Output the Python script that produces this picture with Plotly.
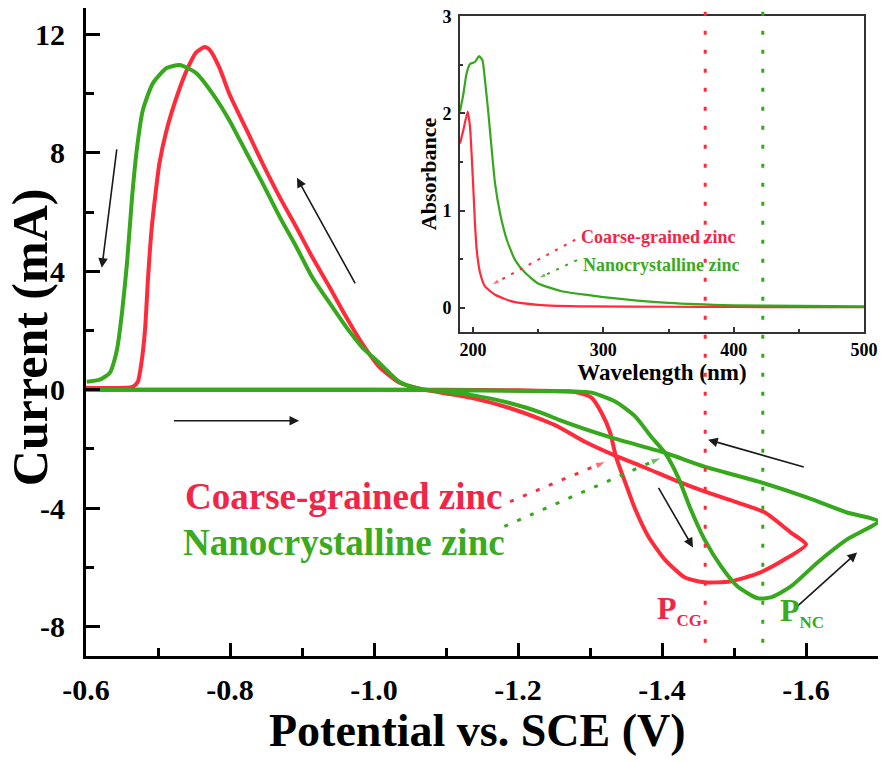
import plotly.graph_objects as go

# cyclic voltammograms: potential (V vs. SCE) and current (mA), one full cycle each
cg_potential = [-0.60, -0.80, -1.00, -1.20, -1.28, -1.302, -1.316, -1.328, -1.336, -1.349, -1.363, -1.381,
                -1.404, -1.432, -1.459, -1.495, -1.533, -1.570, -1.600,
                -1.579, -1.543, -1.501, -1.459, -1.422, -1.376, -1.335, -1.293, -1.256, -1.233, -1.187,
                -1.14, -1.094, -1.06, -1.035, -1.007, -0.983, -0.961, -0.938, -0.914, -0.892, -0.869,
                -0.845, -0.823, -0.799, -0.785, -0.772, -0.765, -0.753, -0.740, -0.726, -0.712, -0.702,
                -0.696, -0.691, -0.686, -0.682, -0.677, -0.672, -0.665, -0.60]
cg_current = [0.0, 0.0, 0.0, -0.02, -0.08, -0.27, -0.78, -1.45, -2.26, -3.14, -4.05, -4.96,
              -5.74, -6.35, -6.51, -6.48, -6.21, -5.74, -5.23,
              -4.83, -4.15, -3.78, -3.44, -3.10, -2.63, -2.23, -1.76, -1.25, -1.01, -0.61,
              -0.30, -0.10, 0.05, 0.24, 0.78, 1.58, 2.47, 3.48, 4.49, 5.50, 6.51,
              7.66, 8.78, 10.0, 10.9, 11.48, 11.58, 11.4, 10.8, 9.9, 8.78, 7.66,
              6.51, 5.4, 3.71, 2.03, 0.91, 0.27, 0.10, 0.07]

nc_potential = [-0.60, -0.80, -1.00, -1.256, -1.302, -1.335, -1.363, -1.385, -1.404, -1.422, -1.44, -1.459,
                -1.482, -1.505, -1.533, -1.551, -1.579, -1.616, -1.657, -1.70,
                -1.657, -1.602, -1.533, -1.459, -1.404, -1.33, -1.256, -1.233, -1.187, -1.14, -1.094,
                -1.06, -1.035, -1.007, -0.983, -0.961, -0.938, -0.914, -0.892, -0.869, -0.845, -0.823,
                -0.799, -0.776, -0.753, -0.730, -0.712, -0.693, -0.679, -0.671, -0.664, -0.657, -0.65,
                -0.643, -0.633, -0.619, -0.601]
nc_current = [0.0, 0.0, 0.0, -0.05, -0.10, -0.40, -0.91, -1.59, -2.13, -2.94, -4.05, -5.06,
              -5.97, -6.65, -7.05, -7.02, -6.65, -5.84, -5.06, -4.45,
              -4.15, -3.65, -3.10, -2.60, -2.13, -1.62, -1.01, -0.78, -0.44, -0.20, -0.07,
              0.05, 0.27, 0.91, 1.45, 2.13, 2.94, 3.81, 4.83, 5.84, 6.99, 8.0,
              9.11, 10.0, 10.7, 10.97, 10.87, 10.36, 9.45, 8.2, 6.51, 4.29, 2.6,
              1.35, 0.57, 0.34, 0.27]

# UV-vis absorbance (inset)
cg_wavelength = [190, 192.6, 195.9, 197.7, 199, 200.3, 201.5, 202.8, 205.4, 209.2, 216.9, 229.8, 250, 288,
                 350, 400, 450, 500]
cg_absorbance = [1.69, 1.83, 2.02, 1.86, 1.56, 1.21, 0.87, 0.60, 0.36, 0.22, 0.134, 0.065, 0.03, 0.013,
                 0.01, 0.008, 0.006, 0.005]
nc_wavelength = [190, 192.6, 195, 197.7, 201.5, 204.6, 207.2, 209.2, 211.8, 214.4, 216.9, 220.8, 225.9,
                 232.3, 240, 250, 268, 288.7, 300, 350, 400, 450, 500]
nc_absorbance = [2.02, 2.2, 2.41, 2.51, 2.53, 2.59, 2.55, 2.34, 2.0, 1.62, 1.28, 0.97, 0.70,
                 0.49, 0.36, 0.25, 0.17, 0.13, 0.11, 0.05, 0.025, 0.018, 0.015]

# cathodic peak potentials
peak_cg = -1.46
peak_nc = -1.54

x_ticks = [-0.6, -0.8, -1.0, -1.2, -1.4, -1.6]
x_tick_labels = ["-0.6", "-0.8", "-1.0", "-1.2", "-1.4", "-1.6"]
x_minor = [-0.7, -0.9, -1.1, -1.3, -1.5, -1.7]
y_ticks = [-8, -4, 0, 4, 8, 12]
y_tick_labels = ["-8", "-4", "0", "4", "8", "12"]
y_minor = [-6, -2, 2, 6, 10]

# scan direction arrows: (tail V, tail I, head V, head I)
scan_arrows = [
    (-0.643, 8.17, -0.622, 4.12),
    (-0.975, 3.54, -0.893, 7.16),
    (-0.720, -1.05, -0.896, -1.05),
    (-1.599, -2.63, -1.464, -1.69),
    (-1.394, -3.27, -1.443, -5.33),
    (-1.583, -7.43, -1.671, -5.50),
]

RED = "#ff2a3a"
GREEN = "#35a81c"
RED_TXT = "#f02648"
GREEN_TXT = "#3aaa1e"
FONT = "Liberation Serif, Times New Roman, serif"

fig = go.Figure()

fig.add_trace(go.Scatter(x=cg_potential, y=cg_current, mode="lines",
                         line=dict(color=RED, width=4, shape="spline", smoothing=0.6),
                         showlegend=False))
fig.add_trace(go.Scatter(x=nc_potential, y=nc_current, mode="lines",
                         line=dict(color=GREEN, width=4, shape="spline", smoothing=0.6),
                         showlegend=False))

# inset
fig.add_trace(go.Scatter(x=cg_wavelength, y=cg_absorbance, mode="lines", xaxis="x2", yaxis="y2",
                         line=dict(color=RED, width=2.2, shape="spline", smoothing=0.5),
                         showlegend=False))
fig.add_trace(go.Scatter(x=nc_wavelength, y=nc_absorbance, mode="lines", xaxis="x2", yaxis="y2",
                         line=dict(color=GREEN, width=2.2, shape="spline", smoothing=0.5),
                         showlegend=False))

# dotted pointers from labels to curves
pointers = [
    ([-1.189, -1.322], [-3.78, -2.43], RED, "x", "y", 11),
    ([-1.181, -1.399], [-4.62, -2.30], GREEN, "x", "y", 11),
    ([278.5, 214.4], [0.70, 0.236], RED, "x2", "y2", 8),
    ([279.8, 250.2], [0.49, 0.305], GREEN, "x2", "y2", 8),
]
for px, py, col, xa, ya, hs in pointers:
    fig.add_trace(go.Scatter(
        x=px, y=py, mode="lines+markers", xaxis=xa, yaxis=ya, showlegend=False,
        line=dict(color=col, width=3 if xa == "x" else 2, dash="4px,10px" if xa == "x" else "3px,7px"),
        marker=dict(symbol="arrow", angleref="previous", size=[0, hs], color=col),
    ))

# peak potential markers (dotted verticals)
for xv, col in [(peak_cg, RED), (peak_nc, GREEN)]:
    fig.add_shape(type="line", xref="x", yref="y", x0=xv, x1=xv, y0=-8.55, y1=12.9,
                  line=dict(color=col, width=3, dash="4px,15px"), layer="above")

for tx, ty, hx, hy in scan_arrows:
    fig.add_annotation(x=hx, y=hy, ax=tx, ay=ty, xref="x", yref="y", axref="x", ayref="y",
                       text="", showarrow=True, arrowhead=2, arrowsize=1.2, arrowwidth=1.6,
                       arrowcolor="#1a1a1a")

big = dict(family=FONT, size=37, weight="bold")
fig.add_annotation(x=-0.958, y=-3.61, xref="x", yref="y", text="Coarse-grained zinc",
                   showarrow=False, font=dict(big, color=RED_TXT))
fig.add_annotation(x=-0.958, y=-5.16, xref="x", yref="y", text="Nanocrystalline zinc",
                   showarrow=False, font=dict(big, color=GREEN_TXT))

fig.add_annotation(x=-1.390, y=-7.45, xref="x", yref="y", xanchor="left",
                   text="P<sub><span style='font-size:17px'>CG</span></sub>", showarrow=False,
                   font=dict(family=FONT, size=32, weight="bold", color=RED_TXT))
fig.add_annotation(x=-1.5606, y=-7.5, xref="x", yref="y", xanchor="left",
                   text="P<sub><span style='font-size:17px'>NC</span></sub>", showarrow=False,
                   font=dict(family=FONT, size=32, weight="bold", color=GREEN_TXT))

small = dict(family=FONT, size=18, weight="bold")
fig.add_annotation(x=342, y=0.73, xref="x2", yref="y2", text="Coarse-grained zinc",
                   showarrow=False, font=dict(small, color=RED_TXT))
fig.add_annotation(x=344, y=0.44, xref="x2", yref="y2", text="Nanocrystalline zinc",
                   showarrow=False, font=dict(small, color=GREEN_TXT))

# main axis titles
fig.add_annotation(x=0.4937, y=-0.1142, xref="paper", yref="paper", xanchor="center",
                   yanchor="middle", text="Potential vs. SCE (V)", showarrow=False,
                   font=dict(family=FONT, size=46, weight="bold", color="black"))
fig.add_annotation(x=-0.0707, y=0.492, xref="paper", yref="paper", xanchor="center",
                   yanchor="middle", text="Current (mA)", textangle=-90, showarrow=False,
                   font=dict(family=FONT, size=50, weight="bold", color="black"))

tickfont_main = dict(family=FONT, size=30, color="black", weight="bold")
tickfont_inset = dict(family=FONT, size=18, color="black", weight="bold")

# the page body adds 8px around the figure, so the figure is 8px smaller on each side
fig.update_layout(
    width=878, height=753,
    margin=dict(l=78, r=8, t=0, b=105),
    plot_bgcolor="white", paper_bgcolor="white",
    xaxis=dict(
        range=[-0.6, -1.7], showgrid=False, zeroline=False, automargin=False,
        showline=True, linewidth=3, linecolor="black", mirror=True,
        tickmode="array", tickvals=x_ticks, ticktext=x_tick_labels,
        ticks="inside", ticklen=13, tickwidth=3, tickcolor="black",
        minor=dict(tickmode="array", tickvals=x_minor, ticks="inside", ticklen=8, tickwidth=3,
                   tickcolor="black"),
        tickfont=tickfont_main, ticklabelstandoff=5,
    ),
    yaxis=dict(
        range=[-9, 12.9], showgrid=False, zeroline=False, automargin=False,
        showline=True, linewidth=3, linecolor="black", mirror=True,
        tickmode="array", tickvals=y_ticks, ticktext=y_tick_labels,
        ticks="inside", ticklen=14, tickwidth=3, tickcolor="black",
        minor=dict(tickmode="array", tickvals=y_minor, ticks="inside", ticklen=8, tickwidth=3,
                   tickcolor="black"),
        tickfont=tickfont_main, ticklabelstandoff=12,
    ),
    xaxis2=dict(
        domain=[0.4722, 0.9823], anchor="y2", range=[190, 500], automargin=False,
        showgrid=False, zeroline=False, showline=True, linewidth=2, linecolor="#333",
        mirror=True, tickvals=[200, 300, 400, 500], ticks="inside", ticklen=5, tickwidth=1.5,
        tickcolor="#333",
        minor=dict(tickvals=[250, 350, 450], ticks="inside", ticklen=3, tickwidth=1.5,
                   tickcolor="#333"),
        tickfont=tickfont_inset, ticklabelstandoff=0,
        title=dict(text="Wavelength (nm)", font=dict(family=FONT, size=23, weight="bold",
                                                     color="black"), standoff=0),
    ),
    yaxis2=dict(
        domain=[0.5, 0.9877], anchor="x2", range=[-0.25, 3.004], automargin=False,
        showgrid=False, zeroline=False, showline=True, linewidth=2, linecolor="#333",
        mirror=True, tickvals=[0, 1, 2, 3], ticks="inside", ticklen=5, tickwidth=1.5,
        tickcolor="#333",
        minor=dict(tickvals=[0.5, 1.5, 2.5], ticks="inside", ticklen=3, tickwidth=1.5,
                   tickcolor="#333"),
        tickfont=tickfont_inset, ticklabelstandoff=3, ticklabeloverflow="allow",
        title=dict(text="Absorbance", font=dict(family=FONT, size=22, weight="bold",
                                                color="black"), standoff=0),
    ),
)

fig.write_html("out.html")
